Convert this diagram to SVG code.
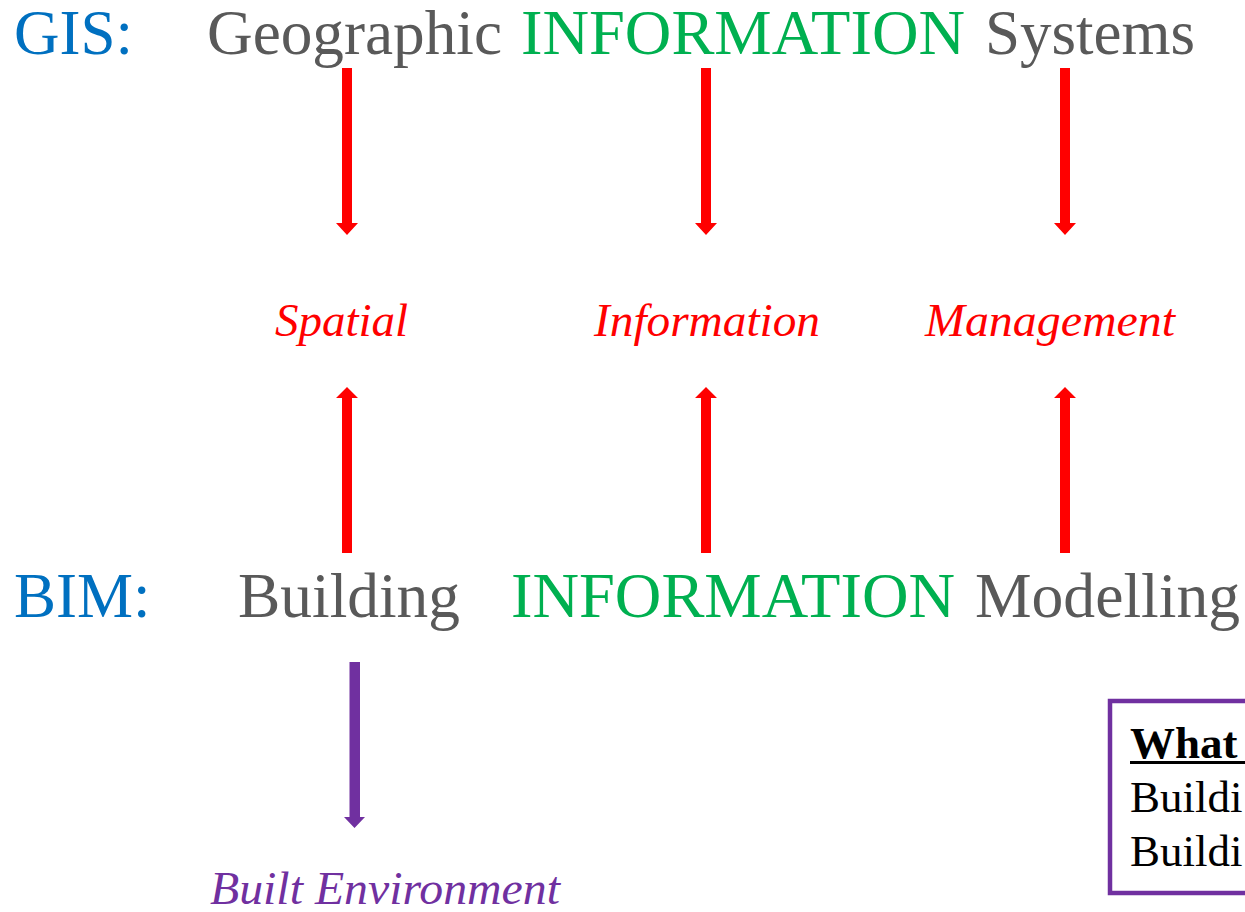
<svg xmlns="http://www.w3.org/2000/svg" width="1245" height="912" viewBox="0 0 1245 912">
<style>
text{font-family:"Liberation Serif","Tinos","Times New Roman","DejaVu Serif",serif}
.big{font-size:63px}
.lab{font-size:47px;font-style:italic}
.box{font-size:45px;fill:#000}
.blue{fill:#0070C0}.gray{fill:#595959}.green{fill:#00B050}.red{fill:#FF0000}.purple{fill:#7030A0}
</style>
<rect width="1245" height="912" fill="#fff"/>
<g id="gis-row">
<g id="gis"><text class="big blue" x="14" y="54">GIS:</text></g>
<g id="geographic"><text class="big gray" x="207" y="54" textLength="295" lengthAdjust="spacingAndGlyphs">Geographic</text></g>
<g id="gis-information"><text class="big green" x="521" y="54" textLength="444" lengthAdjust="spacingAndGlyphs">INFORMATION</text></g>
<g id="systems"><text class="big gray" x="985" y="54" textLength="210" lengthAdjust="spacingAndGlyphs">Systems</text></g>
</g>
<g id="spatial"><text class="lab red" x="275" y="336">Spatial</text></g>
<g id="information"><text class="lab red" x="594" y="336" textLength="226" lengthAdjust="spacingAndGlyphs">Information</text></g>
<g id="management"><text class="lab red" x="925" y="336" textLength="250" lengthAdjust="spacingAndGlyphs">Management</text></g>
<g id="bim-row">
<g id="bim"><text class="big blue" x="14" y="617">BIM:</text></g>
<g id="building"><text class="big gray" x="238" y="617" textLength="222" lengthAdjust="spacingAndGlyphs">Building</text></g>
<g id="bim-information"><text class="big green" x="511" y="617" textLength="444" lengthAdjust="spacingAndGlyphs">INFORMATION</text></g>
<g id="modelling"><text class="big gray" x="975" y="617" textLength="265" lengthAdjust="spacingAndGlyphs">Modelling</text></g>
</g>
<g id="built-environment"><text class="lab purple" x="210" y="904" textLength="350" lengthAdjust="spacingAndGlyphs">Built Environment</text></g>
<g id="what-box">
<rect x="1110" y="701" width="160" height="192" fill="#fff" stroke="#7030A0" stroke-width="4.5"/>
<text class="box" x="1130" y="758" font-weight="bold">What</text>
<rect x="1130" y="761" width="115" height="3" fill="#000"/>
<text class="box" x="1130" y="812">Buildi</text>
<text class="box" x="1130" y="866">Buildi</text>
</g>
<g id="connectors">
<polygon class="red" points="342,68 352,68 352,223 358,223 347,235 336,223 342,223"/>
<polygon class="red" points="701,68 711,68 711,223 717,223 706,235 695,223 701,223"/>
<polygon class="red" points="1060,68 1070,68 1070,223 1076,223 1065,235 1054,223 1060,223"/>
<polygon class="red" points="342,553 352,553 352,398 358,398 347,387 336,398 342,398"/>
<polygon class="red" points="701,553 711,553 711,398 717,398 706,387 695,398 701,398"/>
<polygon class="red" points="1060,553 1070,553 1070,398 1076,398 1065,387 1054,398 1060,398"/>
<polygon class="purple" points="349.5,662 360,662 360,817 365,817 354.5,828 344,817 349.5,817"/>
</g>
</svg>
